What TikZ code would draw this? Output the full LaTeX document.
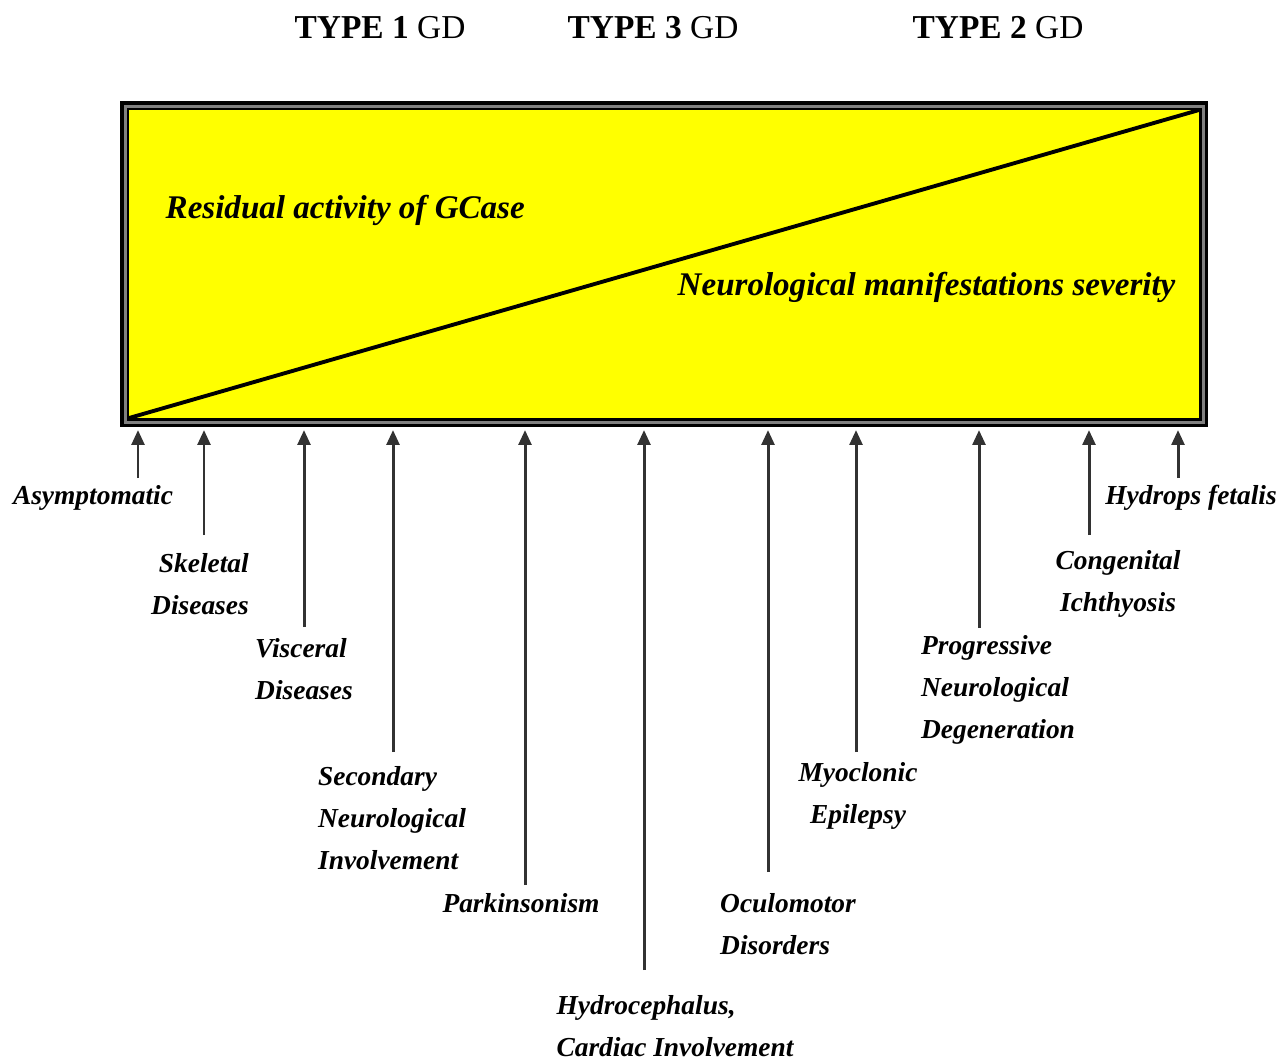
\documentclass[tikz,border=0pt]{standalone}
\usepackage{fontspec}
\usepackage{tikz}
\usetikzlibrary{arrows.meta}
\newfontfamily\figfont{Liberation Serif}
\definecolor{gcaseyellow}{RGB}{255, 255, 0}
\definecolor{framegray}{RGB}{128, 128, 128}
\definecolor{arrowgray}{RGB}{50, 50, 50}
\tikzset{
  typelabel/.style={anchor=base, inner sep=0pt, font=\figfont\fontsize{9.5}{11}\selectfont},
  boxlabel/.style={anchor=base west, inner sep=0pt, font=\figfont\bfseries\itshape\fontsize{9.4}{11}\selectfont},
  symptom/.style={inner sep=0pt, font=\figfont\bfseries\itshape\fontsize{7.8}{11.9}\selectfont},
  uparrow/.style={-{Triangle[width=3.6pt,length=4.2pt]}, arrowgray, line width=0.85pt}
}
\begin{document}
\begin{tikzpicture}[x=0.01cm, y=-0.01cm]
    \useasboundingbox (0,0) rectangle (1280,1060);
    % Type headings
    \node[typelabel] (type1) at (380,38) {\textbf{TYPE 1} GD};
    \node[typelabel] (type3) at (653,38) {\textbf{TYPE 3} GD};
    \node[typelabel] (type2) at (998,38) {\textbf{TYPE 2} GD};
    % Framed yellow box
    \fill[black] (120,101) rectangle (1208,427);
    \fill[framegray] (123.5,104.5) rectangle (1204.5,423.5);
    \fill[black] (126.5,107.5) rectangle (1201.5,420.5);
    \fill[gcaseyellow] (129,110) rectangle (1199,418);
    \coordinate (lowleft) at (129,418);
    \coordinate (upright) at (1199,110);
    \draw[black, line width=1.1pt] (lowleft) -- (upright);
    \node[boxlabel] (residual) at (165,218) {Residual activity of GCase};
    \node[boxlabel] (severity) at (677,295) {Neurological manifestations severity};
    % Manifestations below the box
    \foreach \i/\ax/\ay/\lx/\ly/\al/\txt in {
      1/138/478/93/498/center/{Asymptomatic},
      2/204/535/200/584/right/{Skeletal\\Diseases},
      3/304/627/304/669/left/{Visceral\\Diseases},
      4/393/752/392/818/left/{Secondary\\Neurological\\Involvement},
      5/525/885/521/903/center/{Parkinsonism},
      6/644/970/675/1026/left/{Hydrocephalus,\\Cardiac Involvement},
      7/768/872/788/924/left/{Oculomotor\\Disorders},
      8/856/752/858/796/center/{Myoclonic\\Epilepsy},
      9/979/628/998/690/left/{Progressive\\Neurological\\Degeneration},
      10/1089/535/1118/584/center/{Congenital\\Ichthyosis},
      11/1178/478/1191/498/center/{Hydrops fetalis}} {
      \coordinate (tail\i) at (\ax,\ay);
      \coordinate (tip\i) at (\ax,430);
      \draw[uparrow] (tail\i) -- (tip\i);
      \node[symptom, align=\al] (sym\i) at (\lx,\ly) {\txt};
    }
  \end{tikzpicture}
\end{document}
